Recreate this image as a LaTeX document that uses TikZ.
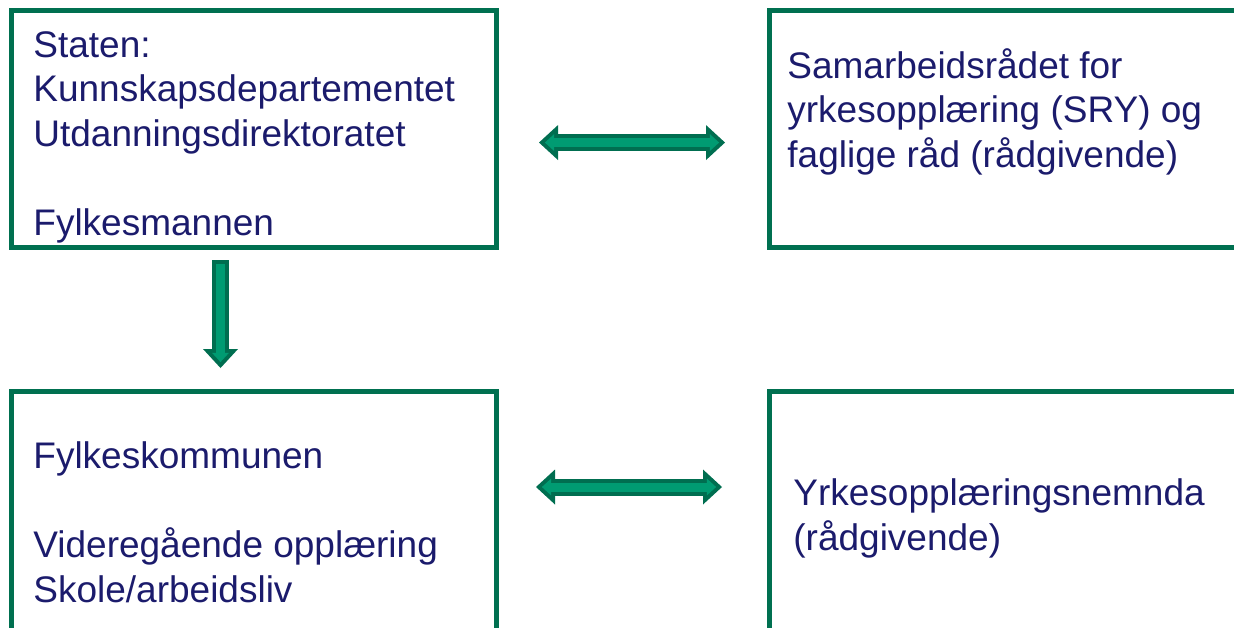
\documentclass[tikz,border=0pt]{standalone}
\usepackage{fontspec}
\setmainfont{Liberation Sans}
\usepackage{tikz}
\usetikzlibrary{arrows.meta,positioning}
\definecolor{boxgreen}{RGB}{0,112,80}
\definecolor{arrowline}{RGB}{0,110,80}
\definecolor{arrowfill}{RGB}{0,155,114}
\definecolor{navytext}{RGB}{27,27,108}
\begin{document}
\begin{tikzpicture}[x=0.5pt,y=-0.5pt,
        box/.style={
          draw=boxgreen,line width=2.5pt,inner sep=0pt
        },
        txt/.style={
          anchor=base west,inner sep=0pt,align=left,text=navytext,
          font=\fontsize{18.5}{22.25}\selectfont
        },
        outerhead/.tip={Triangle[length=9.5pt,width=17.5pt,line width=0pt]},
        innerhead/.tip={Triangle[length=4.6pt,width=8.4pt,line width=0pt]},
        blockarrow/.style={
          draw=arrowline,line width=8.5pt,
          postaction={draw=arrowfill,line width=4.5pt,#1}
        }
      ]
      \useasboundingbox (0,0) rectangle (1234,627);
      \node [box,minimum width=242.5pt,minimum height=118.75pt] (stat) at (254,128.75) {};
      \node [box,minimum width=265.5pt,minimum height=118.75pt] (sry) at (1034.5,128.75) {};
      \node [box,minimum width=242.5pt,minimum height=154.5pt] (fylk) at (254,545.5) {};
      \node [box,minimum width=265.5pt,minimum height=154.5pt] (ysn) at (1034.5,545.5) {};
      % base anchor sits on the last line
      \node [txt] (stattxt) at (33,235) {Staten:\\Kunnskapsdepartementet\\Utdanningsdirektoratet\\ \mbox{}\\Fylkesmannen};
      \node [txt] (srytxt) at (787,167) {Samarbeidsrådet for\\yrkesopplæring (SRY) og\\faglige råd (rådgivende)};
      \node [txt] (fylktxt) at (33,602) {Fylkeskommunen\\ \mbox{}\\Videregående opplæring\\Skole/arbeidsliv};
      \node [txt] (ysntxt) at (793,550) {Yrkesopplæringsnemnda\\(rådgivende)};
      \draw [blockarrow={innerhead-innerhead,shorten <=22.95pt,shorten >=23.7pt},
        outerhead-outerhead,shorten <=20pt,shorten >=20.75pt]
        ([yshift=-6.9pt]stat.east) -- ([yshift=-6.9pt]sry.west);
      \draw [blockarrow={innerhead-innerhead,shorten <=21.45pt,shorten >=25.2pt},
        outerhead-outerhead,shorten <=18.5pt,shorten >=22.25pt]
        ([yshift=29.25pt]fylk.east) -- ([yshift=29.25pt]ysn.west);
      \draw [blockarrow={-innerhead,shorten <=7pt,shorten >=13.2pt},
        -outerhead,shorten <=5pt,shorten >=10.25pt]
        ([xshift=-16.75pt]stat.south) -- ([xshift=-16.75pt]fylk.north);
    \end{tikzpicture}
\end{document}
